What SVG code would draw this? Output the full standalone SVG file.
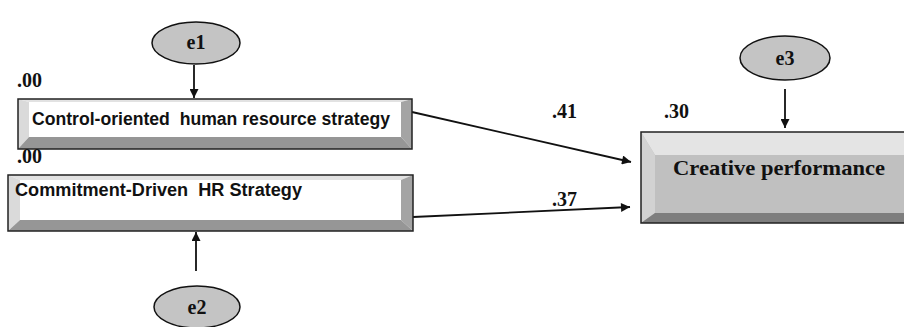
<svg xmlns="http://www.w3.org/2000/svg" width="904" height="327" viewBox="0 0 904 327">
<defs>
<style>
.lbl{font-family:"Liberation Serif","Times New Roman",serif;font-weight:bold;font-size:20px;fill:#111}
.box{font-family:"Liberation Sans",Arial,sans-serif;font-weight:bold;font-size:17.5px;fill:#111;white-space:pre}
.err ellipse{fill:#c4c4c4;stroke:#111;stroke-width:1.5}
.edge{stroke:#111;stroke-width:1.8;fill:none;marker-end:url(#ah)}
.out{fill:none;stroke:#222;stroke-width:1.5}
</style>
<marker id="ah" viewBox="0 0 10 10" refX="10" refY="5" markerWidth="11" markerHeight="9" markerUnits="userSpaceOnUse" orient="auto">
<path d="M0,0 L10,5 L0,10 z" fill="#111"/>
</marker>
</defs>
<rect width="904" height="327" fill="#fff"/>

<g id="connectors">
<line class="edge" x1="194" y1="65" x2="194" y2="98"/>
<line class="edge" x1="196" y1="271" x2="196" y2="232"/>
<line class="edge" x1="785" y1="89" x2="785" y2="128"/>
<line class="edge" x1="412" y1="112" x2="631" y2="162"/>
<line class="edge" x1="413" y1="217" x2="630" y2="207"/>
</g>

<g id="e1" class="err">
<ellipse cx="196" cy="43" rx="44" ry="21"/>
<text class="lbl" x="196" y="49" text-anchor="middle">e1</text>
</g>

<g id="e2" class="err">
<ellipse cx="197" cy="307" rx="43" ry="21"/>
<text class="lbl" x="197" y="314" text-anchor="middle">e2</text>
</g>

<g id="e3" class="err">
<ellipse cx="785" cy="58" rx="45" ry="22"/>
<text class="lbl" x="785" y="65" text-anchor="middle">e3</text>
</g>

<g id="control">
<rect x="18" y="99" width="394" height="50" fill="#fff"/>
<polygon points="18,99 412,99 401,102 29,102" fill="#e2e2e2"/>
<polygon points="18,99 29,102 29,137 18,149" fill="#dadada"/>
<polygon points="412,99 412,149 401,137 401,102" fill="#a4a4a4"/>
<polygon points="18,149 29,137 401,137 412,149" fill="#969696"/>
<rect class="out" x="18" y="99" width="394" height="50"/>
<text class="box" x="32" y="125" xml:space="preserve" textLength="358" lengthAdjust="spacingAndGlyphs">Control-oriented  human resource strategy</text>
</g>

<g id="commitment">
<rect x="8" y="175" width="405" height="56" fill="#fff"/>
<polygon points="8,175 413,175 401,180 20,180" fill="#e2e2e2"/>
<polygon points="8,175 20,180 20,220 8,231" fill="#dadada"/>
<polygon points="413,175 413,231 401,220 401,180" fill="#a4a4a4"/>
<polygon points="8,231 20,220 401,220 413,231" fill="#969696"/>
<rect class="out" x="8" y="175" width="405" height="56"/>
<text class="box" x="15" y="196" xml:space="preserve" textLength="287" lengthAdjust="spacingAndGlyphs">Commitment-Driven  HR Strategy</text>
</g>

<g id="creative">
<rect x="641" y="132" width="270" height="91" fill="#c0c0c0"/>
<polygon points="641,132 911,132 911,155 655,155" fill="#e4e4e4"/>
<polygon points="641,132 655,155 655,213 641,223" fill="#d2d2d2"/>
<polygon points="641,223 655,213 911,213 911,223" fill="#7e7e7e"/>
<rect class="out" x="641" y="132" width="270" height="91"/>
<text class="lbl" x="673" y="175" style="font-size:21px" textLength="212" lengthAdjust="spacingAndGlyphs">Creative performance</text>
</g>

<g id="labels">
<text class="lbl" x="17" y="87">.00</text>
<text class="lbl" x="17" y="163">.00</text>
<text class="lbl" x="552" y="118">.41</text>
<text class="lbl" x="664" y="118">.30</text>
<text class="lbl" x="552" y="206">.37</text>
</g>
</svg>
